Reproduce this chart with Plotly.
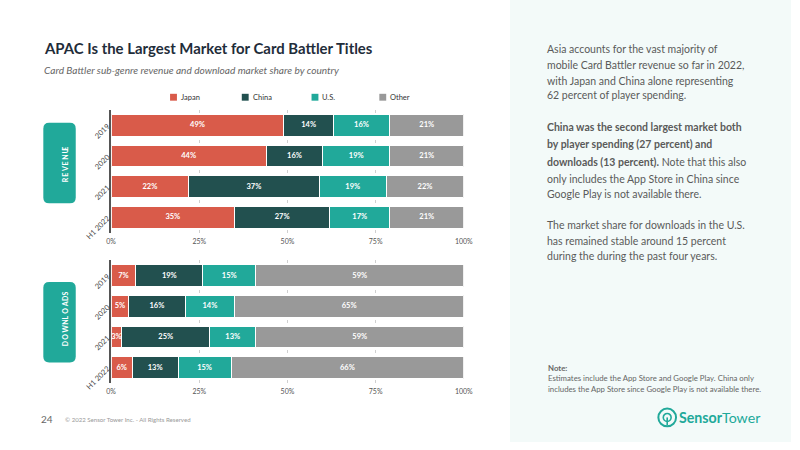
import numpy as np
import plotly.graph_objects as go

# ---------------- data ----------------
years = ["2019", "2020", "2021", "H1 2022"]
series = ["Japan", "China", "U.S.", "Other"]
revenue_japan = [49, 44, 22, 35]
revenue_china = [14, 16, 37, 27]
revenue_us = [16, 19, 19, 17]
revenue_other = [21, 21, 22, 21]
downloads_japan = [7, 5, 3, 6]
downloads_china = [19, 16, 25, 13]
downloads_us = [15, 14, 13, 15]
downloads_other = [59, 65, 59, 66]
x_tick_vals = [0, 25, 50, 75, 100]
x_tick_text = ["0%", "25%", "50%", "75%", "100%"]

colors = ["#D95B4A", "#22504F", "#21A99A", "#999999"]
FONT = "Lato"
W, H = 800, 450


def px(x):
    return x / W


def py(y):
    return 1 - y / H


fig = go.Figure()

revenue = [revenue_japan, revenue_china, revenue_us, revenue_other]
downloads = [downloads_japan, downloads_china, downloads_us, downloads_other]

for axis_x, axis_y, data in [("x", "y", revenue), ("x2", "y2", downloads)]:
    arr = np.array(data, dtype=float)
    ends = np.cumsum(arr, axis=0)
    mids = ends - arr / 2
    for name, vals, col in zip(series, data, colors):
        fig.add_trace(go.Bar(
            y=years, x=vals, name=name, orientation="h",
            marker=dict(color=col, line=dict(color="white", width=1)),
            textposition="none",
            xaxis=axis_x, yaxis=axis_y, showlegend=False, hoverinfo="skip",
        ))
    for i, (name, vals) in enumerate(zip(series, data)):
        fig.add_trace(go.Scatter(
            x=mids[i], y=years, mode="text", text=[f"{v}%" for v in vals],
            textposition="middle center",
            textfont=dict(color="white", size=7.5, family=FONT, weight="bold"),
            xaxis=axis_x, yaxis=axis_y, showlegend=False, hoverinfo="skip", cliponaxis=False,
        ))

xax = dict(range=[0, 100], tickvals=x_tick_vals, ticktext=x_tick_text,
           showgrid=True, gridcolor="#d0d0d0", griddash="dot", gridwidth=1,
           zeroline=False, showline=False, ticks="", ticklabelstandoff=3,
           tickfont=dict(size=7, color="#555", family=FONT), fixedrange=True)
yax = dict(categoryorder="array", categoryarray=years, autorange="reversed",
           tickangle=-45, showline=True, linecolor="#555", linewidth=2,
           showgrid=False, zeroline=False, ticks="",
           tickfont=dict(size=7.5, color="#444", family=FONT), fixedrange=True)

fig.update_layout(
    width=W, height=H, margin=dict(l=0, r=0, t=0, b=0), autosize=False,
    paper_bgcolor="white", plot_bgcolor="rgba(0,0,0,0)",
    barmode="stack", bargap=0.29,
    font=dict(family=FONT),
    xaxis=dict(domain=[px(108), px(467)], anchor="y", **xax),
    yaxis=dict(domain=[py(237), py(112)], anchor="x", **yax),
    xaxis2=dict(domain=[px(108), px(467)], anchor="y2", **xax),
    yaxis2=dict(domain=[py(390), py(265)], anchor="x2", **yax),
    showlegend=False,
)

shapes = []
ann = []

shapes.append(dict(type="rect", xref="paper", yref="paper", x0=px(514), x1=1, y0=0, y1=1,
                   fillcolor="#F3FAF9", line=dict(width=0), layer="below"))


def rr_paper(x0, y0, x1, y1, r):
    def P(x, y):
        return f"{px(x)},{py(y)}"
    return (f"M {P(x0 + r, y0)} L {P(x1 - r, y0)} Q {P(x1, y0)} {P(x1, y0 + r)} "
            f"L {P(x1, y1 - r)} Q {P(x1, y1)} {P(x1 - r, y1)} L {P(x0 + r, y1)} "
            f"Q {P(x0, y1)} {P(x0, y1 - r)} L {P(x0, y0 + r)} Q {P(x0, y0)} {P(x0 + r, y0)} Z")


GLYPH_W = {"R": 0.65, "E": 0.58, "V": 0.68, "N": 0.74, "U": 0.72, "D": 0.73,
           "O": 0.78, "W": 1.0, "L": 0.55, "A": 0.70, "S": 0.55}
LFS = 7
SPACING = 1.3
for (y0, y1, label) in [(125, 207, "REVENUE"), (287, 369, "DOWNLOADS")]:
    shapes.append(dict(type="path", xref="paper", yref="paper", path=rr_paper(39, y0, 72, y1, 6),
                       fillcolor="#21A99A", line=dict(width=0)))
    widths = [GLYPH_W[c] * LFS for c in label]
    total = sum(widths) + SPACING * (len(label) - 1)
    cy = (y0 + y1) / 2
    pos = cy + total / 2
    for ch, w in zip(label, widths):
        yy = pos - w / 2
        ann.append(dict(x=px(56), y=py(yy), xref="paper", yref="paper",
                        text=ch, showarrow=False, textangle=-90, borderpad=0,
                        font=dict(size=LFS, color="white", family=FONT, weight="bold")))
        pos -= w + SPACING

ann.append(dict(x=px(38), y=py(49), xref="paper", yref="paper", xanchor="left", yanchor="middle",
                text="<b>APAC Is the Largest Market for Card Battler Titles</b>", showarrow=False,
                font=dict(size=14.9, color="#1f2d3a", family=FONT)))
ann.append(dict(x=px(38), y=py(71), xref="paper", yref="paper", xanchor="left", yanchor="middle",
                text="<i>Card Battler sub-genre revenue and download market share by country</i>", showarrow=False,
                font=dict(size=10.1, color="#666", family=FONT)))

legend_x = [168, 241, 312, 381]
for name, col, lx in zip(series, colors, legend_x):
    shapes.append(dict(type="rect", xref="paper", yref="paper", x0=px(lx), x1=px(lx + 7),
                       y0=py(102.5), y1=py(95.5), fillcolor=col, line=dict(width=0)))
    ann.append(dict(x=px(lx + 9), y=py(99), xref="paper", yref="paper", xanchor="left", yanchor="middle",
                    text=name, showarrow=False, font=dict(size=7.5, color="#333", family=FONT)))

TX = 550
para_color = "#5a5a5a"
lines = [
    (50, "Asia accounts for the vast majority of"),
    (66, "mobile Card Battler revenue so far in 2022,"),
    (82, "with Japan and China alone representing"),
    (97, "62 percent of player spending."),
    (129, "<b>China was the second largest market both</b>"),
    (147, "<b>by player spending (27 percent) and</b>"),
    (165, "<b>downloads (13 percent).</b> Note that this also"),
    (182, "only includes the App Store in China since"),
    (198, "Google Play is not available there."),
    (229, "The market share for downloads in the U.S."),
    (245, "has remained stable around 15 percent"),
    (261, "during the during the past four years."),
]
for y, t in lines:
    ann.append(dict(x=px(TX), y=py(y), xref="paper", yref="paper", xanchor="left", yanchor="middle",
                    text=t, showarrow=False, font=dict(size=10.5, color=para_color, family=FONT)))

notes = [
    (375, "<b>Note:</b>"),
    (385, "Estimates include the App Store and Google Play. China only"),
    (396, "includes the App Store since Google Play is not available there."),
]
for y, t in notes:
    ann.append(dict(x=px(551), y=py(y), xref="paper", yref="paper", xanchor="left", yanchor="middle",
                    text=t, showarrow=False, font=dict(size=7.8, color="#666", family=FONT)))

teal = "#21A99A"
shapes.append(dict(type="circle", xref="paper", yref="paper", x0=px(665), x1=px(683), y0=py(434), y1=py(416),
                   line=dict(color=teal, width=2)))
shapes.append(dict(type="circle", xref="paper", yref="paper", x0=px(670), x1=px(678), y0=py(429), y1=py(421),
                   line=dict(color=teal, width=1.6)))
shapes.append(dict(type="line", xref="paper", yref="paper", x0=px(674), x1=px(674), y0=py(425), y1=py(433),
                   line=dict(color=teal, width=1.6)))
ann.append(dict(x=px(684), y=py(425), xref="paper", yref="paper", xanchor="left", yanchor="middle",
                text="<b>Sensor</b>Tower", showarrow=False, font=dict(size=14.2, color=teal, family=FONT)))

ann.append(dict(x=px(35), y=py(427), xref="paper", yref="paper", xanchor="left", yanchor="middle",
                text="24", showarrow=False, font=dict(size=10, color="#666", family=FONT)))
ann.append(dict(x=px(59), y=py(427), xref="paper", yref="paper", xanchor="left", yanchor="middle",
                text="© 2022 Sensor Tower Inc. - All Rights Reserved", showarrow=False,
                font=dict(size=6.1, color="#999", family=FONT)))

fig.update_layout(shapes=shapes, annotations=ann)
fig.write_html("out.html", config={"responsive": False, "displayModeBar": False},
               post_script="document.body.style.margin='0px';document.documentElement.style.overflow='hidden';")
